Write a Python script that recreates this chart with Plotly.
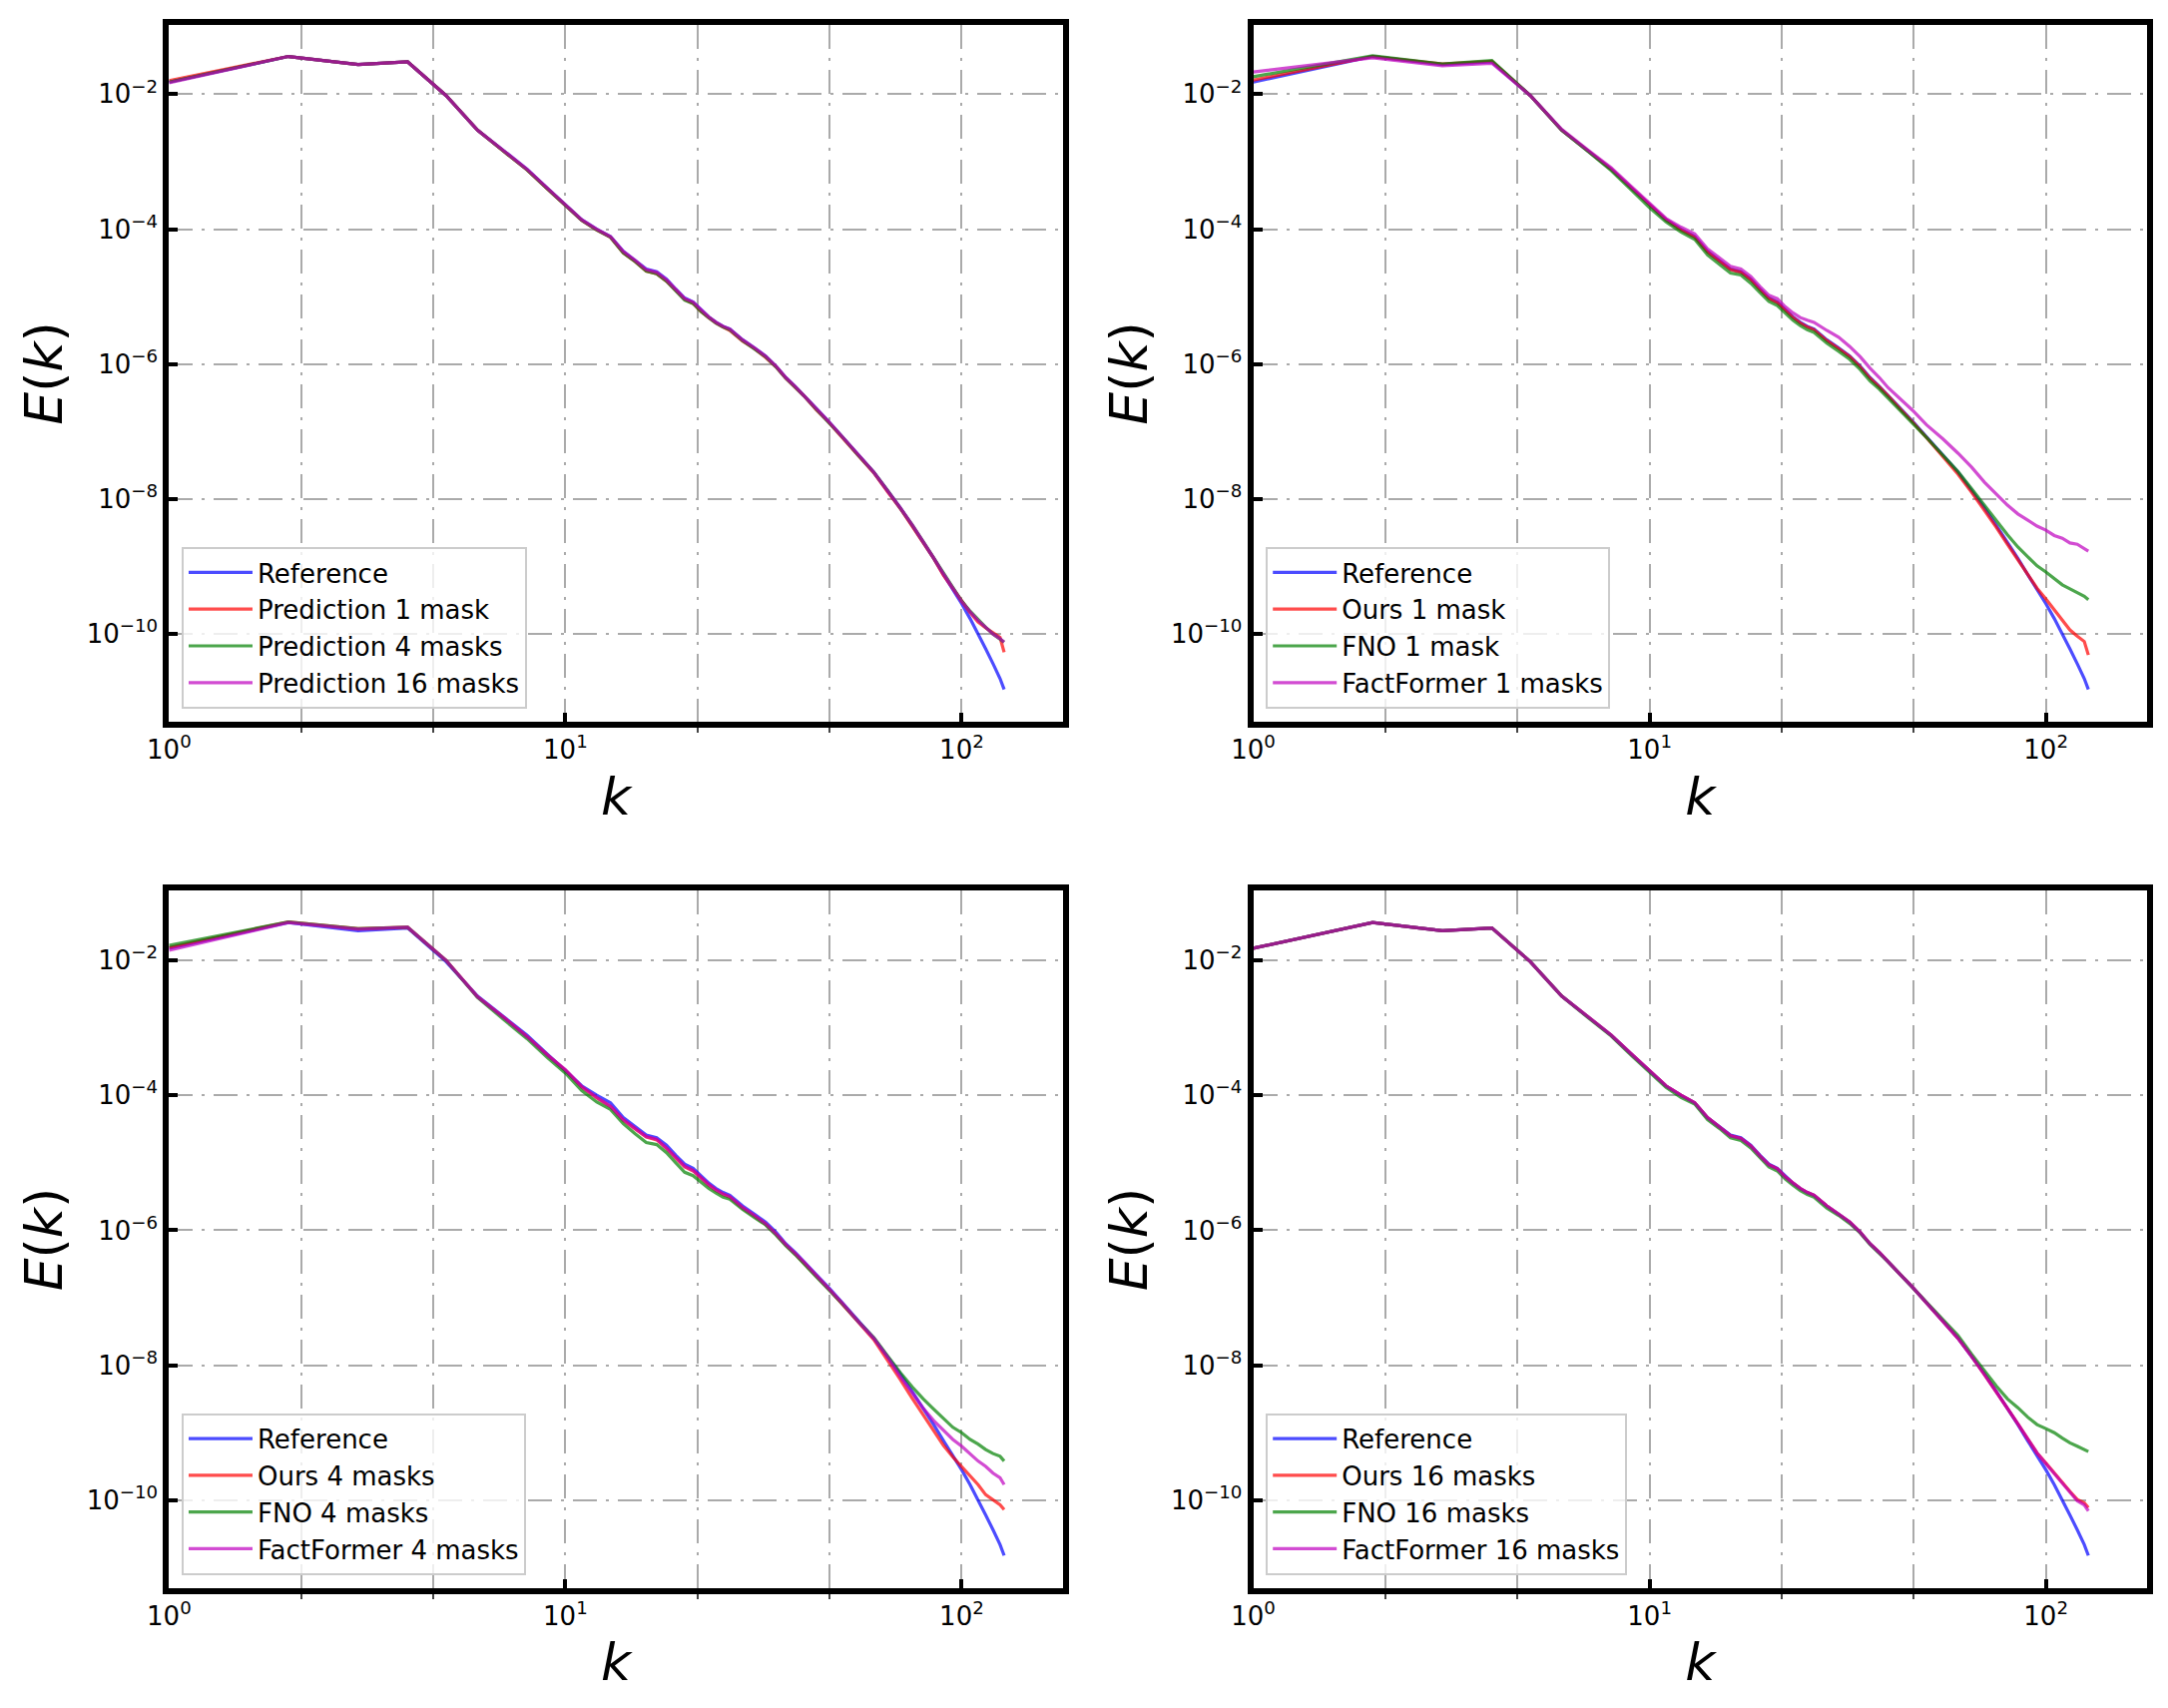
"""Energy spectra E(k) of reference vs. predictions for 1, 4 and 16 masks."""

import plotly.graph_objects as go

# wavenumbers
K = [1, 2, 3, 4, 5, 6, 7, 8, 9, 10, 11, 12, 13, 14, 15, 16, 17, 18, 19, 20,
     21, 22, 23, 24, 25, 26, 28, 30, 32, 34, 36, 38, 40, 43, 46, 50, 55, 60,
     65, 70, 75, 80, 85, 90, 95, 100, 105, 110, 115, 120, 125, 128]

# log10 E(k)
REFERENCE = [-1.82, -1.44, -1.56, -1.52, -2.02, -2.53, -2.84, -3.11, -3.39, -3.64,
             -3.86, -4.00, -4.11, -4.33, -4.46, -4.59, -4.63, -4.74, -4.89, -5.02,
             -5.08, -5.20, -5.30, -5.38, -5.44, -5.48, -5.64, -5.76, -5.88, -6.03,
             -6.20, -6.33, -6.46, -6.66, -6.84, -7.07, -7.35, -7.60, -7.87, -8.13,
             -8.39, -8.64, -8.88, -9.12, -9.34, -9.55, -9.77, -9.99, -10.22, -10.44,
             -10.66, -10.82]

PRED_1 = [-1.80, -1.44, -1.56, -1.52, -2.02, -2.53, -2.85, -3.12, -3.40, -3.65,
          -3.87, -4.01, -4.12, -4.35, -4.48, -4.62, -4.66, -4.77, -4.91, -5.04,
          -5.10, -5.22, -5.31, -5.39, -5.45, -5.50, -5.66, -5.77, -5.90, -6.04,
          -6.21, -6.35, -6.47, -6.68, -6.85, -7.09, -7.37, -7.61, -7.89, -8.14,
          -8.40, -8.65, -8.88, -9.13, -9.33, -9.52, -9.68, -9.82, -9.91, -9.98,
          -10.05, -10.27]
PRED_4 = [-1.82, -1.44, -1.56, -1.52, -2.02, -2.53, -2.85, -3.12, -3.40, -3.65,
          -3.87, -4.01, -4.12, -4.35, -4.48, -4.62, -4.66, -4.77, -4.92, -5.05,
          -5.10, -5.22, -5.31, -5.39, -5.45, -5.49, -5.65, -5.77, -5.89, -6.04,
          -6.21, -6.34, -6.47, -6.67, -6.85, -7.08, -7.36, -7.60, -7.87, -8.13,
          -8.38, -8.63, -8.87, -9.11, -9.32, -9.51, -9.66, -9.79, -9.90, -10.00,
          -10.07, -10.12]
PRED_16 = [-1.83, -1.44, -1.56, -1.52, -2.02, -2.53, -2.84, -3.11, -3.39, -3.64,
           -3.86, -4.00, -4.11, -4.33, -4.46, -4.60, -4.64, -4.75, -4.90, -5.03,
           -5.08, -5.20, -5.30, -5.38, -5.44, -5.48, -5.64, -5.76, -5.88, -6.03,
           -6.20, -6.33, -6.46, -6.66, -6.84, -7.07, -7.35, -7.60, -7.87, -8.13,
           -8.38, -8.63, -8.87, -9.11, -9.32, -9.52, -9.67, -9.80, -9.90, -10.00,
           -10.07, -10.12]

OURS_1 = [-1.79, -1.44, -1.55, -1.51, -2.02, -2.53, -2.84, -3.11, -3.39, -3.64,
          -3.86, -4.01, -4.12, -4.34, -4.47, -4.60, -4.64, -4.75, -4.90, -5.03,
          -5.09, -5.21, -5.31, -5.39, -5.45, -5.49, -5.65, -5.77, -5.89, -6.04,
          -6.21, -6.34, -6.47, -6.67, -6.85, -7.09, -7.38, -7.63, -7.90, -8.16,
          -8.42, -8.67, -8.90, -9.13, -9.32, -9.48, -9.64, -9.79, -9.94, -10.03,
          -10.11, -10.31]
FNO_1 = [-1.74, -1.43, -1.55, -1.50, -2.02, -2.53, -2.85, -3.13, -3.42, -3.68,
         -3.89, -4.04, -4.15, -4.38, -4.52, -4.65, -4.68, -4.80, -4.94, -5.07,
         -5.13, -5.25, -5.35, -5.43, -5.49, -5.53, -5.69, -5.81, -5.93, -6.08,
         -6.25, -6.37, -6.50, -6.69, -6.87, -7.09, -7.36, -7.59, -7.85, -8.09,
         -8.33, -8.53, -8.71, -8.86, -8.99, -9.08, -9.17, -9.27, -9.33, -9.39,
         -9.44, -9.49]
FACT_1 = [-1.67, -1.46, -1.58, -1.54, -2.02, -2.52, -2.83, -3.09, -3.37, -3.62,
          -3.84, -3.97, -4.07, -4.29, -4.42, -4.55, -4.59, -4.70, -4.85, -4.98,
          -5.03, -5.15, -5.24, -5.31, -5.35, -5.38, -5.50, -5.60, -5.74, -5.89,
          -6.06, -6.20, -6.35, -6.52, -6.68, -6.90, -7.11, -7.32, -7.53, -7.75,
          -7.93, -8.09, -8.22, -8.31, -8.40, -8.46, -8.54, -8.58, -8.65, -8.67,
          -8.73, -8.77]

OURS_4 = [-1.81, -1.43, -1.53, -1.51, -2.00, -2.54, -2.85, -3.13, -3.40, -3.63,
          -3.88, -4.04, -4.17, -4.37, -4.50, -4.62, -4.66, -4.79, -4.93, -5.06,
          -5.12, -5.23, -5.33, -5.41, -5.47, -5.51, -5.67, -5.79, -5.91, -6.06,
          -6.22, -6.35, -6.48, -6.68, -6.86, -7.09, -7.37, -7.62, -7.92, -8.21,
          -8.49, -8.74, -8.97, -9.19, -9.36, -9.50, -9.64, -9.77, -9.92, -9.99,
          -10.07, -10.14]
FNO_4 = [-1.78, -1.43, -1.53, -1.51, -2.00, -2.55, -2.88, -3.16, -3.44, -3.67,
         -3.93, -4.10, -4.21, -4.42, -4.57, -4.70, -4.73, -4.85, -5.00, -5.14,
         -5.19, -5.29, -5.38, -5.45, -5.51, -5.54, -5.69, -5.81, -5.92, -6.07,
         -6.23, -6.36, -6.49, -6.69, -6.87, -7.09, -7.36, -7.59, -7.86, -8.11,
         -8.32, -8.50, -8.65, -8.79, -8.92, -9.00, -9.10, -9.17, -9.25, -9.31,
         -9.35, -9.42]
FACT_4 = [-1.85, -1.44, -1.54, -1.51, -2.00, -2.54, -2.85, -3.13, -3.40, -3.62,
          -3.87, -4.03, -4.16, -4.36, -4.49, -4.61, -4.65, -4.78, -4.92, -5.05,
          -5.11, -5.22, -5.32, -5.40, -5.46, -5.50, -5.66, -5.78, -5.90, -6.05,
          -6.21, -6.34, -6.47, -6.67, -6.85, -7.08, -7.36, -7.60, -7.88, -8.17,
          -8.41, -8.64, -8.82, -8.97, -9.10, -9.20, -9.32, -9.42, -9.50, -9.60,
          -9.67, -9.77]

OURS_16 = [-1.82, -1.44, -1.56, -1.52, -2.02, -2.53, -2.84, -3.11, -3.39, -3.64,
           -3.86, -4.00, -4.11, -4.33, -4.47, -4.60, -4.64, -4.75, -4.90, -5.03,
           -5.09, -5.21, -5.30, -5.38, -5.44, -5.48, -5.64, -5.76, -5.88, -6.03,
           -6.20, -6.33, -6.46, -6.66, -6.84, -7.07, -7.35, -7.60, -7.87, -8.14,
           -8.39, -8.64, -8.87, -9.10, -9.30, -9.45, -9.60, -9.75, -9.87, -9.99,
           -10.04, -10.11]
FNO_16 = [-1.82, -1.44, -1.56, -1.52, -2.02, -2.53, -2.85, -3.12, -3.41, -3.66,
          -3.88, -4.03, -4.13, -4.36, -4.49, -4.63, -4.67, -4.78, -4.93, -5.06,
          -5.12, -5.24, -5.33, -5.41, -5.47, -5.51, -5.67, -5.78, -5.90, -6.04,
          -6.21, -6.34, -6.47, -6.66, -6.84, -7.06, -7.33, -7.56, -7.84, -8.09,
          -8.31, -8.50, -8.63, -8.77, -8.88, -8.94, -9.00, -9.08, -9.15, -9.20,
          -9.25, -9.28]
FACT_16 = [-1.82, -1.44, -1.56, -1.52, -2.02, -2.53, -2.84, -3.11, -3.39, -3.64,
           -3.86, -4.00, -4.11, -4.33, -4.47, -4.60, -4.64, -4.75, -4.90, -5.03,
           -5.09, -5.21, -5.30, -5.38, -5.44, -5.48, -5.64, -5.76, -5.88, -6.03,
           -6.20, -6.33, -6.46, -6.66, -6.84, -7.07, -7.35, -7.60, -7.87, -8.14,
           -8.39, -8.64, -8.87, -9.10, -9.30, -9.46, -9.61, -9.76, -9.89, -10.01,
           -10.07, -10.16]

PANELS = [
    ("Reference", REFERENCE, "Prediction 1 mask", PRED_1,
     "Prediction 4 masks", PRED_4, "Prediction 16 masks", PRED_16),
    ("Reference", REFERENCE, "Ours 1 mask", OURS_1,
     "FNO 1 mask", FNO_1, "FactFormer 1 masks", FACT_1),
    ("Reference", REFERENCE, "Ours 4 masks", OURS_4,
     "FNO 4 masks", FNO_4, "FactFormer 4 masks", FACT_4),
    ("Reference", REFERENCE, "Ours 16 masks", OURS_16,
     "FNO 16 masks", FNO_16, "FactFormer 16 masks", FACT_16),
]

X_TICKS = [1, 10, 100]
X_TICK_TEXT = ["10<sup>0</sup>", "10<sup>1</sup>", "10<sup>2</sup>"]
X_MINOR = [2.154, 4.642, 21.54, 46.42]
Y_TICKS = [1e-10, 1e-8, 1e-6, 1e-4, 1e-2]
Y_TICK_TEXT = ["10<sup>\u221210</sup>", "10<sup>\u22128</sup>", "10<sup>\u22126</sup>",
               "10<sup>\u22124</sup>", "10<sup>\u22122</sup>"]

COLORS = ["rgba(0,0,255,0.7)", "rgba(255,0,0,0.7)",
          "rgba(0,128,0,0.7)", "rgba(191,0,191,0.7)"]

# the page body adds a small offset, so the domains are nudged up/left a little
X_DOMAINS = [(0.0743, 0.4865), (0.5744, 0.9866)]
Y_DOMAINS = [(0.5821, 0.9902), (0.0750, 0.4831)]

FONT = "DejaVu Sans"
GRID = "#aaaaaa"
GRID_DASH = "24px,9px,3px,9px"


def axis_common():
    return dict(
        type="log",
        showline=True, mirror=True, linecolor="black", linewidth=6,
        showgrid=True, gridcolor=GRID, gridwidth=2, griddash=GRID_DASH,
        zeroline=False, ticks="inside", ticklen=9, tickwidth=4, tickcolor="black",
        tickfont=dict(family=FONT, size=26, color="black"),
        automargin=False,
    )


def build_chart():
    fig = go.Figure()
    layout = {}
    for i, panel in enumerate(PANELS):
        row, col = divmod(i, 2)
        n = "" if i == 0 else str(i + 1)
        legend_name = "legend" + n
        for j in range(4):
            name, vals = panel[2 * j], panel[2 * j + 1]
            fig.add_trace(go.Scatter(
                x=K, y=[10 ** v for v in vals], mode="lines", name=name,
                line=dict(color=COLORS[j], width=3.2),
                xaxis="x" + n, yaxis="y" + n, legend=legend_name,
            ))

        xa = axis_common()
        xa.update(
            domain=X_DOMAINS[col], anchor="y" + n, range=[0, 2.255],
            tickmode="array", tickvals=X_TICKS, ticktext=X_TICK_TEXT,
            minor=dict(tickvals=X_MINOR, showgrid=True, gridcolor=GRID, gridwidth=2,
                       griddash=GRID_DASH, ticks="outside", ticklen=5, tickwidth=2,
                       tickcolor="#444444"),
            title=dict(text="<i>k</i>", font=dict(family=FONT, size=52, color="black"),
                       standoff=16),
        )
        ya = axis_common()
        ya.update(
            domain=Y_DOMAINS[row], anchor="x" + n, range=[-11.30, -0.97],
            tickmode="array", tickvals=Y_TICKS, ticktext=Y_TICK_TEXT,
            title=dict(text="<i>E</i>(<i>k</i>)",
                       font=dict(family=FONT, size=52, color="black"), standoff=9),
        )
        layout["xaxis" + n] = xa
        layout["yaxis" + n] = ya
        layout[legend_name] = dict(
            x=X_DOMAINS[col][0] + 0.0058, y=Y_DOMAINS[row][0] + 0.0076,
            xanchor="left", yanchor="bottom",
            bgcolor="rgba(255,255,255,0.8)", bordercolor="#cccccc", borderwidth=2,
            font=dict(family=FONT, size=26, color="black"),
            itemwidth=64,
        )

    fig.update_layout(
        width=2172, height=1711,
        margin=dict(l=0, r=0, t=0, b=0),
        paper_bgcolor="white", plot_bgcolor="white",
        showlegend=True,
        **layout,
    )
    return fig


def main():
    fig = build_chart()
    fig.write_html("out.html")


if __name__ == "__main__":
    main()
